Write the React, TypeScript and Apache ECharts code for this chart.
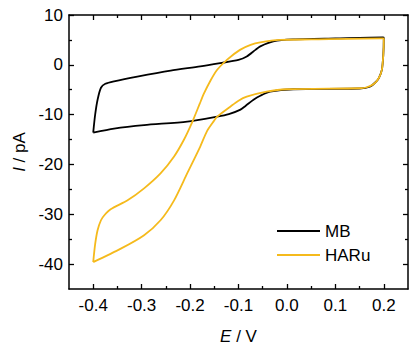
import React, { useEffect, useRef } from "react";
import * as echarts from "echarts";

const mbE = [-0.400, -0.396, -0.391, -0.384, -0.375, -0.357, -0.309, -0.240, -0.179, -0.138, -0.100, -0.083, -0.065, -0.055, -0.028, 0.013, 0.100, 0.198,
  0.200, 0.199, 0.196, 0.190, 0.184, 0.171, 0.150, 0.013, -0.035, -0.055, -0.069, -0.085, -0.097, -0.120, -0.144, -0.206, -0.295, -0.357, -0.400];
const mbI = [-13.6, -10.0, -7.0, -4.6, -3.8, -3.3, -2.35, -1.15, -0.33, 0.33, 1.0, 1.67, 3.0, 3.7, 4.7, 5.1, 5.3, 5.5,
  5.4, 2.0, -1.0, -2.6, -3.4, -4.4, -4.75, -4.9, -5.4, -6.2, -7.0, -8.2, -9.05, -9.9, -10.4, -11.4, -12.1, -12.8, -13.6];

const haE = [-0.400, -0.396, -0.391, -0.384, -0.377, -0.364, -0.329, -0.295, -0.261, -0.233, -0.213, -0.196, -0.180, -0.172, -0.158, -0.144, -0.124, -0.097, -0.075, -0.055, -0.014, 0.050, 0.198,
  0.200, 0.199, 0.196, 0.190, 0.180, 0.165, 0.150, -0.001, -0.042, -0.083, -0.100, -0.117, -0.144, -0.151, -0.165, -0.179, -0.206, -0.233, -0.261, -0.295, -0.343, -0.400];
const haI = [-39.6, -36.0, -33.2, -31.2, -30.2, -29.0, -27.2, -24.8, -21.8, -18.4, -15.1, -11.6, -7.8, -5.9, -3.2, -1.0, 1.0, 3.0, 4.0, 4.5, 5.0, 5.1, 5.3,
  5.2, 2.0, -1.0, -2.6, -3.8, -4.5, -4.7, -4.9, -5.4, -6.4, -7.2, -8.4, -10.4, -11.3, -13.3, -16.4, -21.8, -27.2, -31.2, -34.2, -36.9, -39.6];

const xMajor = [-0.4, -0.3, -0.2, -0.1, 0.0, 0.1, 0.2];
const xMinor = [-0.35, -0.25, -0.15, -0.05, 0.05, 0.15];
const yMajor = [-40, -30, -20, -10, 0, 10];
const yMinor = [-35, -25, -15, -5, 5];

const seriesNames = ["MB", "HARu"];
const colors = ["#000000", "#f5ba1c"];

const FONT = "'Liberation Sans', Arial, sans-serif";
const FS = 17;

export default function App() {
  const ref = useRef<HTMLDivElement>(null);
  useEffect(() => {
    if (!ref.current) return;
    const chart = echarts.init(ref.current, null, { renderer: "svg" });
    const line = { show: true, onZero: false, lineStyle: { color: "#000", width: 1.5 } };
    const noLine = { show: false, onZero: false };
    const mkX = (pos: string, vals: number[], len: number, labels: boolean, showLine: boolean) => ({
      type: "value", position: pos, min: -0.45, max: 0.25, gridIndex: 0,
      axisLine: showLine ? line : noLine,
      axisTick: { show: true, inside: true, length: len, customValues: vals, lineStyle: { color: "#000", width: 1.3 } },
      axisLabel: labels ? { show: true, customValues: vals, margin: 8, color: "#000", fontSize: FS, fontFamily: FONT, formatter: (v: number) => v.toFixed(1) } : { show: false },
      splitLine: { show: false },
      name: labels ? "{i|E} / V" : "",
      nameLocation: "middle", nameGap: 39,
      nameTextStyle: { color: "#000", fontSize: FS, fontFamily: FONT, rich: { i: { fontStyle: "italic", fontSize: FS, fontFamily: FONT, color: "#000" } } },
    });
    const mkY = (pos: string, vals: number[], len: number, labels: boolean, showLine: boolean) => ({
      type: "value", position: pos, min: -45, max: 10, gridIndex: 0,
      axisLine: showLine ? line : noLine,
      axisTick: { show: true, inside: true, length: len, customValues: vals, lineStyle: { color: "#000", width: 1.3 } },
      axisLabel: labels ? { show: true, customValues: vals, margin: 6, color: "#000", fontSize: FS, fontFamily: FONT } : { show: false },
      splitLine: { show: false },
      name: labels ? "{i|I} / pA" : "",
      nameLocation: "middle", nameGap: 30,
      nameTextStyle: { color: "#000", fontSize: FS, fontFamily: FONT, rich: { i: { fontStyle: "italic", fontSize: FS, fontFamily: FONT, color: "#000" } } },
    });
    const data = [
      mbE.map((e, i) => [e, mbI[i]]),
      haE.map((e, i) => [e, haI[i]]),
    ];
    chart.setOption({
      animation: false,
      backgroundColor: "#fff",
      grid: { left: 69, right: 9, top: 15, bottom: 62, containLabel: false, outerBoundsMode: "none" },
      xAxis: [
        mkX("bottom", xMajor, 5, true, true),
        mkX("bottom", xMinor, 3, false, false),
        mkX("top", xMajor, 5, false, true),
        mkX("top", xMinor, 3, false, false),
      ],
      yAxis: [
        mkY("left", yMajor, 5, true, true),
        mkY("left", yMinor, 3, false, false),
        mkY("right", yMajor, 5, false, true),
        mkY("right", yMinor, 3, false, false),
      ],
      legend: {
        orient: "vertical", left: 272, top: 217,
        itemWidth: 43, itemHeight: 2.2, itemGap: 6, icon: "rect",
        textStyle: { color: "#000", fontSize: FS, fontFamily: FONT, lineHeight: 18 },
        data: seriesNames,
      },
      series: seriesNames.map((n, k) => ({
        name: n, type: "line", xAxisIndex: 0, yAxisIndex: 0,
        data: data[k], showSymbol: false, smooth: 0.25,
        lineStyle: { color: colors[k], width: 1.8 }, itemStyle: { color: colors[k] },
        z: 2 + k,
      })),
    });
    return () => chart.dispose();
  }, []);
  return <div ref={ref} style={{ position: "absolute", left: 0, top: 0, width: 417, height: 351, background: "#fff" }} />;
}
